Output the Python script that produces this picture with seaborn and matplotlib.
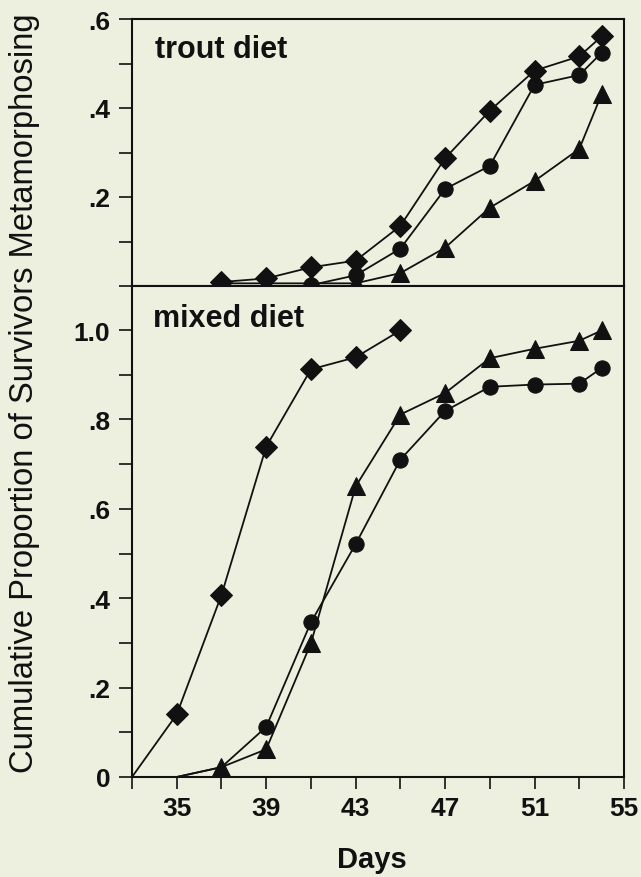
import numpy as np
import pandas as pd
import matplotlib
matplotlib.use("Agg")
import matplotlib.pyplot as plt
import seaborn as sns

# ---------------- data ----------------
trout_diamond_days = [37, 39, 41, 43, 45, 47, 49, 51, 53, 54]
trout_diamond = [0.009, 0.017, 0.042, 0.057, 0.135, 0.287, 0.394, 0.484, 0.516, 0.561]
trout_circle_days = [41, 43, 45, 47, 49, 51, 53, 54]
trout_circle = [0.002, 0.024, 0.084, 0.218, 0.270, 0.452, 0.474, 0.524]
trout_triangle_days = [37, 39, 41, 43, 45, 47, 49, 51, 53, 54]
trout_triangle = [0.006, 0.006, 0.006, 0.006, 0.029, 0.086, 0.176, 0.236, 0.308, 0.431]

mixed_diamond_days = [33, 35, 37, 39, 41, 43, 45]
mixed_diamond = [0.0, 0.140, 0.407, 0.739, 0.912, 0.939, 0.999]
mixed_circle_days = [35, 37, 39, 41, 43, 45, 47, 49, 51, 53, 54]
mixed_circle = [0.0, 0.022, 0.112, 0.346, 0.521, 0.710, 0.819, 0.873, 0.878, 0.880, 0.915]
mixed_triangle_days = [35, 37, 39, 41, 43, 45, 47, 49, 51, 53, 54]
mixed_triangle = [0.0, 0.022, 0.062, 0.299, 0.650, 0.811, 0.859, 0.937, 0.958, 0.976, 0.999]

x_ticks = list(range(33, 56, 2))
x_ticklabels = ["", "35", "", "39", "", "43", "", "47", "", "51", "", "55"]
top_yticks = [0.0, 0.1, 0.2, 0.3, 0.4, 0.5, 0.6]
top_yticklabels = ["", "", ".2", "", ".4", "", ".6"]
bot_yticks = [0.0, 0.1, 0.2, 0.3, 0.4, 0.5, 0.6, 0.7, 0.8, 0.9, 1.0]
bot_yticklabels = ["0", "", ".2", "", ".4", "", ".6", "", ".8", "", "1.0"]

# ---------------- style ----------------
sns.set_theme(style="ticks")
plt.rcParams["font.family"] = ["Liberation Sans", "DejaVu Sans"]
BG = "#eef0df"
INK = "#111111"

W, H = 641, 878
fig = plt.figure(figsize=(W / 100, H / 100), dpi=100)
fig.patch.set_facecolor(BG)

L, R = 132, 624
T, M, B = 20, 287, 778
ax1 = fig.add_axes([L / W, (H - M) / H, (R - L) / W, (M - T) / H])
ax2 = fig.add_axes([L / W, (H - B) / H, (R - L) / W, (B - M) / H])


def draw(ax, days, vals, marker, ms, skip=()):
    every = [i for i, v in enumerate(vals) if v > 0 and days[i] not in skip]
    sns.lineplot(x=days, y=vals, ax=ax, color=INK, marker=marker, markersize=ms,
                 markeredgecolor=INK, markerfacecolor=INK, linewidth=1.3,
                 estimator=None, sort=False, markevery=every, legend=False)


for ax, series in [
    (ax1, [(trout_diamond_days, trout_diamond, "D", 11, ()),
           (trout_circle_days, trout_circle, "o", 11, ()),
           (trout_triangle_days, trout_triangle, "^", 13, ())]),
    (ax2, [(mixed_diamond_days, mixed_diamond, "D", 11, ()),
           (mixed_circle_days, mixed_circle, "o", 11, (37,)),
           (mixed_triangle_days, mixed_triangle, "^", 13, ())]),
]:
    for d, v, mk, ms, sk in series:
        draw(ax, d, v, mk, ms, sk)
    ax.set_facecolor(BG)
    ax.set_xlim(33, 55)
    ax.set_xlabel("")
    ax.set_ylabel("")
    for s in ax.spines.values():
        s.set_visible(True)
        s.set_linewidth(1.5)
        s.set_color(INK)

ax1.set_ylim(0, 0.6)
ax1.set_yticks(top_yticks)
ax1.set_yticklabels(top_yticklabels)
ax1.tick_params(axis="x", bottom=False, labelbottom=False)

ax2.set_ylim(0, 1.0985)
ax2.set_yticks(bot_yticks)
ax2.set_yticklabels(bot_yticklabels)
ax2.set_xticks(x_ticks)
ax2.set_xticklabels(x_ticklabels)

for ax in (ax1, ax2):
    ax.tick_params(axis="y", direction="out", length=9.5, width=1.2, pad=6,
                   labelsize=19, colors=INK)
    ax.tick_params(axis="x", direction="out", length=8.6, width=1.2, pad=5,
                   labelsize=19, colors=INK)
    for lab in ax.get_xticklabels() + ax.get_yticklabels():
        lab.set_fontweight("bold")

ax1.text((155 - L) / (R - L), (M - 58) / (M - T), "trout diet", transform=ax1.transAxes,
         fontsize=22, fontweight="bold", color=INK, va="baseline", ha="left")
ax2.text((153 - L) / (R - L), (B - 327) / (B - M), "mixed diet", transform=ax2.transAxes,
         fontsize=22, fontweight="bold", color=INK, va="baseline", ha="left")

fig.text(372 / W, (H - 868) / H, "Days", fontsize=21, fontweight="bold", color=INK,
         ha="center", va="baseline")
fig.text(25 / W, (H - 393) / H, "Cumulative Proportion of Survivors Metamorphosing",
         rotation=90, fontsize=23.6, color=INK, ha="center", va="center")

fig.savefig("out.png", dpi=100, facecolor=BG)
